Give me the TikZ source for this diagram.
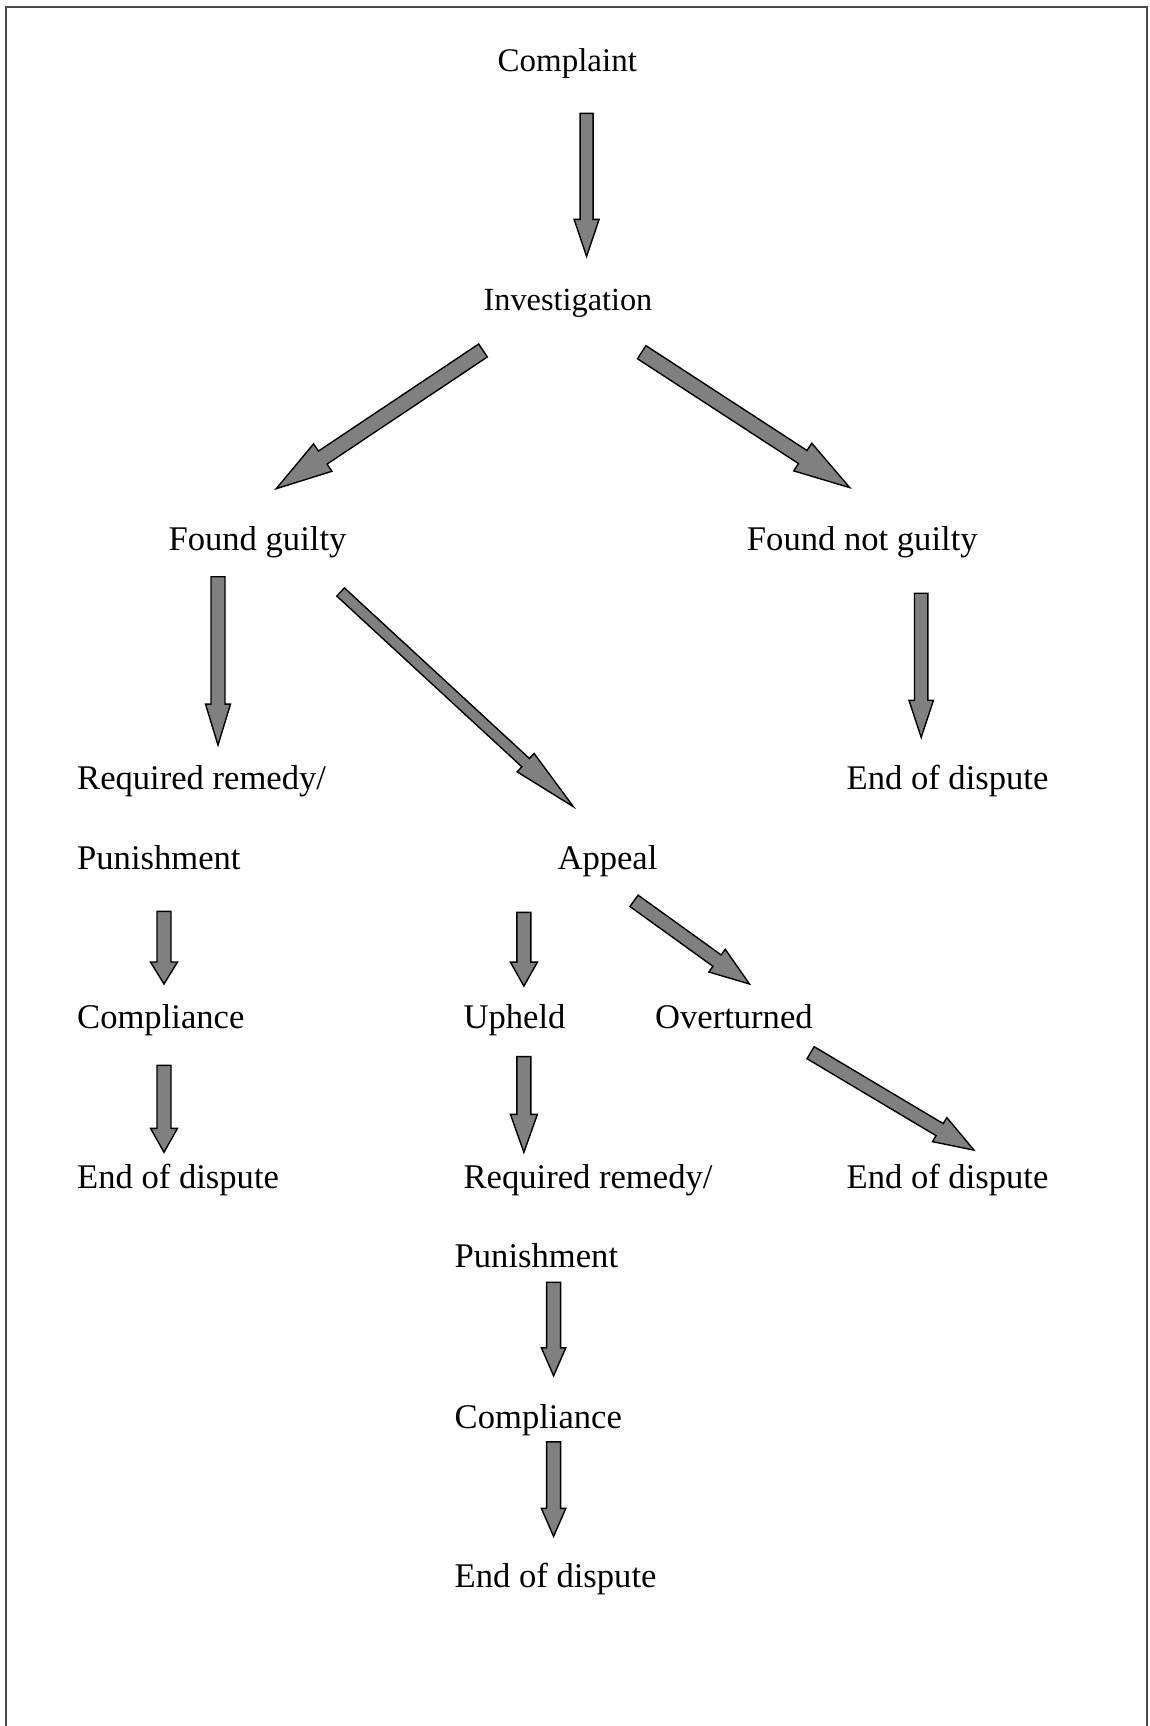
\documentclass[tikz,border=0pt]{standalone}
\usepackage{fontspec}
\setmainfont{Liberation Serif}
\usetikzlibrary{calc}
\definecolor{arrowgray}{HTML}{808080}
\definecolor{framegray}{HTML}{4A4A4A}
\tikzset{
  lbl/.style={inner sep=0pt, font=\fontsize{34.6}{40}\selectfont},
  arrowsty/.style={fill=arrowgray, draw=black, line width=1.4pt, line join=miter},
  framesty/.style={draw=framegray, line width=2.2pt}
}
% #1 tail, #2 tip, #3 half shaft width, #4 half head width, #5 head length
\newcommand\blockarrow[5]{%
  \coordinate (ahb) at ($(#2)!#5pt!(#1)$);
  \draw[arrowsty] ($(#1)!#3pt!90:(#2)$) -- ($(ahb)!#3pt!90:(#2)$) -- ($(ahb)!#4pt!90:(#2)$)
    -- (#2) -- ($(ahb)!#4pt!-90:(#2)$) -- ($(ahb)!#3pt!-90:(#2)$) -- ($(#1)!#3pt!-90:(#2)$) -- cycle;
}
\begin{document}
\begin{tikzpicture}[x=1pt,y=-1pt]
\useasboundingbox (0,0) rectangle (1149,1726);
% frame
\draw[framesty] (6,1726) -- (6,7) -- (1147,7) -- (1147,1726);

% texts
\node[lbl, anchor=base, font=\fontsize{33}{40}\selectfont] (complaint) at (567.3,72) {Complaint};
\node[lbl, anchor=base, font=\fontsize{32.3}{40}\selectfont] (invest) at (568,310) {Investigation};
\node[lbl, anchor=base] (guilty) at (257.5,550) {Found guilty};
\node[lbl, anchor=base] (notguilty) at (862.3,550) {Found not guilty};
\node[lbl, anchor=base west] (remL1) at (77,789) {Required remedy/};
\node[lbl, anchor=base west] (endR1) at (846.4,789) {End of dispute};
\node[lbl, anchor=base west] (punL) at (77,869) {Punishment};
\node[lbl, anchor=base] (appeal) at (607.5,869) {Appeal};
\node[lbl, anchor=base west] (compL) at (77,1028) {Compliance};
\node[lbl, anchor=base west] (upheld) at (463.4,1028) {Upheld};
\node[lbl, anchor=base west] (overt) at (654.9,1028) {Overturned};
\node[lbl, anchor=base west] (endL) at (77,1188) {End of dispute};
\node[lbl, anchor=base west] (remM1) at (463.4,1188) {Required remedy/};
\node[lbl, anchor=base west] (endR2) at (846.4,1188) {End of dispute};
\node[lbl, anchor=base west] (punM) at (454.5,1267) {Punishment};
\node[lbl, anchor=base west] (compM) at (454.5,1428) {Compliance};
\node[lbl, anchor=base west] (endM) at (454.5,1587) {End of dispute};

% arrow end coordinates
\coordinate (a1s) at (586.6,113.4);  \coordinate (a1e) at (586.6,256.4);
\coordinate (a2s) at (483,350.5);    \coordinate (a2e) at (276.2,488.7);
\coordinate (a3s) at (641.7,352.2);  \coordinate (a3e) at (849.7,487.6);
\coordinate (a4s) at (218,576.7);    \coordinate (a4e) at (218,745.1);
\coordinate (a5s) at (340.6,592);    \coordinate (a5e) at (573.4,806.7);
\coordinate (a6s) at (921.2,593.2);  \coordinate (a6e) at (921.2,737.4);
\coordinate (a7s) at (164,911.3);    \coordinate (a7e) at (164,984);
\coordinate (a8s) at (164,1065.4);   \coordinate (a8e) at (164,1152.3);
\coordinate (a9s) at (523.9,912.4);  \coordinate (a9e) at (523.9,986.1);
\coordinate (a10s) at (634,900.8);   \coordinate (a10e) at (749.5,984);
\coordinate (a11s) at (523.9,1056.6);\coordinate (a11e) at (523.9,1152.3);
\coordinate (a12s) at (810.6,1052.7);\coordinate (a12e) at (974,1150.1);
\coordinate (a13s) at (553.6,1282.2);\coordinate (a13e) at (553.6,1375.8);
\coordinate (a14s) at (553.6,1441.8);\coordinate (a14e) at (553.6,1536.4);

% arrows
\blockarrow{a1s}{a1e}{6.5}{12.5}{37}
\blockarrow{a2s}{a2e}{7.8}{16.5}{56}
\blockarrow{a3s}{a3e}{7.8}{16.5}{56}
\blockarrow{a4s}{a4e}{7}{12.5}{41}
\blockarrow{a5s}{a5e}{5.6}{12.5}{65}
\blockarrow{a6s}{a6e}{6.7}{12.2}{37}
\blockarrow{a7s}{a7e}{7}{13.5}{22}
\blockarrow{a8s}{a8e}{7}{13.5}{24}
\blockarrow{a9s}{a9e}{7}{13.5}{24}
\blockarrow{a10s}{a10e}{7}{14}{40}
\blockarrow{a11s}{a11e}{7}{13.5}{38}
\blockarrow{a12s}{a12e}{7}{14}{40}
\blockarrow{a13s}{a13e}{7}{12.2}{28}
\blockarrow{a14s}{a14e}{7}{12.2}{28}
\end{tikzpicture}
\end{document}
